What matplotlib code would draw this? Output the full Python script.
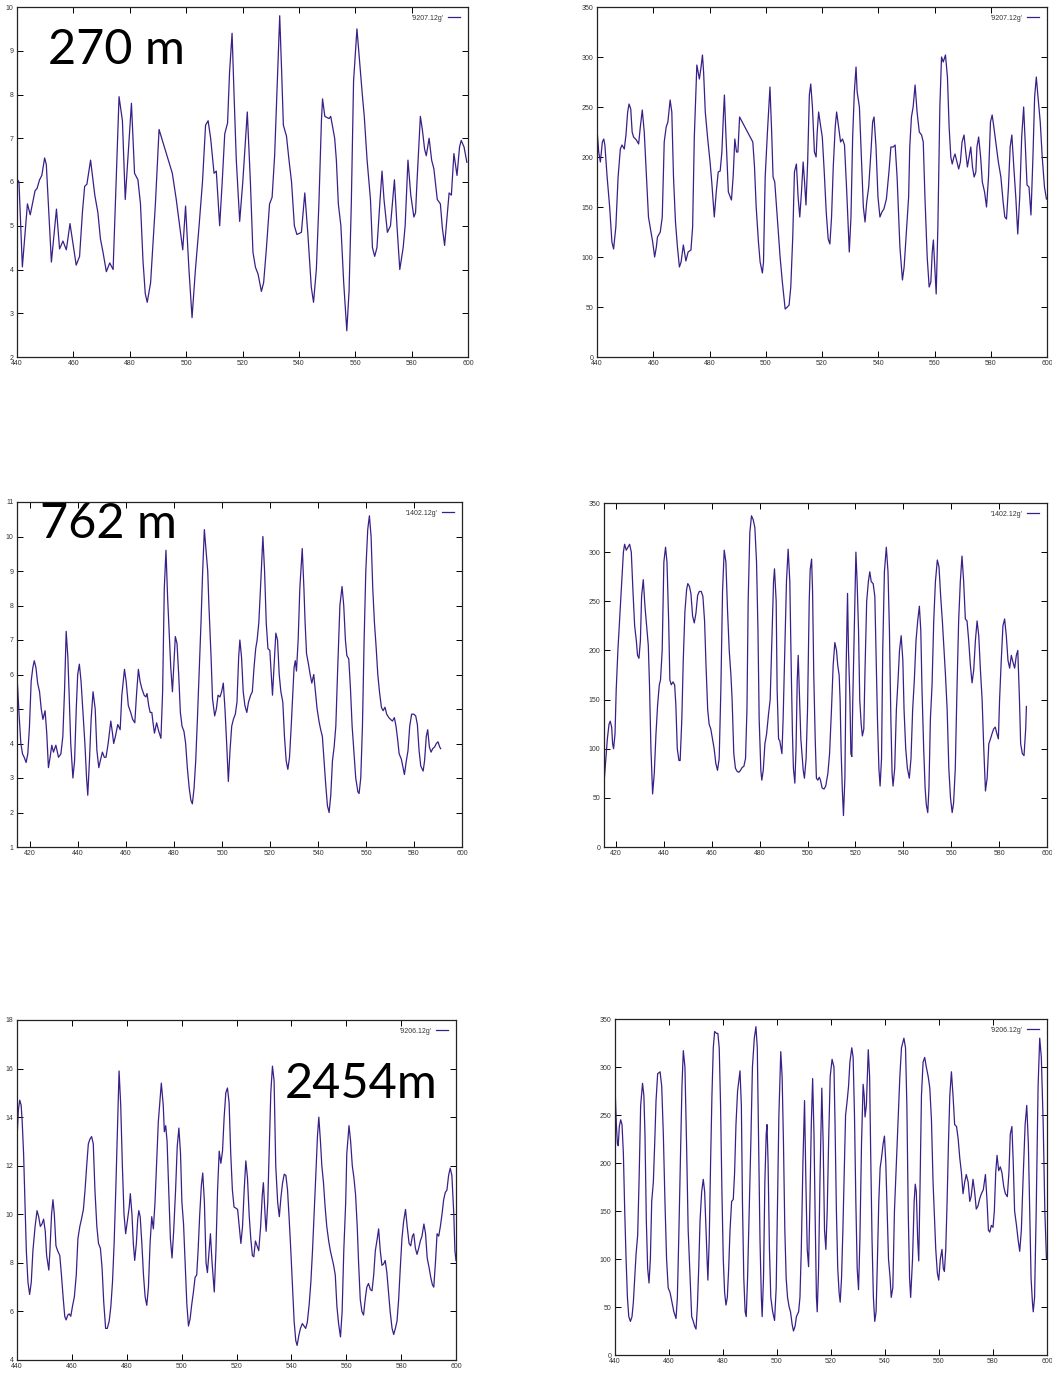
import matplotlib
matplotlib.use("Agg")
import matplotlib.pyplot as plt
import numpy as np

# --- 270 m : left panel (speed-like), right panel (direction 0-350) ---
x_270_a = [440.0, 440.7, 441.9, 443.7, 444.7, 446.4, 447.1, 448.0, 448.8, 449.8, 450.4, 452.2, 454.0, 455.1,
           456.3, 457.5, 458.8, 461.0, 462.2, 463.2, 464.0, 464.8, 466.1, 467.6, 468.7, 469.6, 470.5, 471.7,
           472.9, 474.1, 476.2, 477.4, 478.4, 480.6, 481.7, 482.9, 483.8, 484.7, 485.5, 486.2, 487.4, 489.1,
           490.4, 491.8, 495.1, 496.5, 497.7, 498.8, 499.8, 501.0, 502.1, 503.3, 504.6, 505.8, 506.9, 507.8,
           508.7, 509.9, 510.7, 511.9, 512.8, 513.7, 514.7, 515.4, 516.3, 517.0, 517.8, 519.0, 520.1, 520.8,
           521.7, 522.8, 523.7, 524.6, 525.5, 526.7, 527.5, 528.5, 529.6, 530.5, 531.4, 532.2, 533.2, 533.9,
           534.5, 535.6, 536.5, 537.4, 538.4, 539.3, 540.9, 542.1, 543.2, 544.4, 545.2, 546.2, 547.1, 548.0,
           548.4, 549.2, 550.7, 551.3, 552.7, 553.3, 554.0, 554.9, 555.9, 557.0, 557.8, 558.6, 559.4, 560.6,
           561.6, 562.5, 563.2, 564.2, 565.4, 566.1, 566.9, 567.7, 568.7, 569.5, 570.2, 571.4, 572.5, 573.9,
           574.8, 575.8, 577.0, 577.7, 578.7, 579.7, 580.8, 581.4, 581.9, 583.1, 583.8, 584.6, 585.2, 586.2,
           587.1, 587.9, 589.1, 590.2, 590.9, 591.7, 592.3, 593.3, 594.1, 595.0, 596.1, 597.0, 597.6, 598.6,
           599.6]
y_270_a = [6.07, 6.0, 4.06, 5.5, 5.25, 5.8, 5.85, 6.05, 6.15, 6.55, 6.4, 4.17, 5.38, 4.47,
           4.65, 4.45, 5.05, 4.1, 4.3, 5.3, 5.9, 5.95, 6.5, 5.7, 5.3, 4.7, 4.4, 3.95,
           4.15, 4.0, 7.95, 7.4, 5.6, 7.8, 6.2, 6.05, 5.5, 4.2, 3.45, 3.25, 3.7, 5.5,
           7.2, 6.9, 6.2, 5.6, 5.0, 4.45, 5.45, 4.0, 2.9, 4.0, 5.0, 6.0, 7.3, 7.4,
           7.0, 6.2, 6.25, 5.0, 6.0, 7.1, 7.35, 8.5, 9.4, 8.0, 6.5, 5.1, 6.0, 6.7,
           7.6, 6.0, 4.4, 4.05, 3.9, 3.5, 3.7, 4.5, 5.5, 5.65, 6.6, 8.0, 9.8, 8.5,
           7.3, 7.05, 6.5, 6.0, 5.0, 4.8, 4.85, 5.75, 4.8, 3.6, 3.25, 4.0, 5.5, 7.4,
           7.9, 7.5, 7.45, 7.5, 7.0, 6.5, 5.5, 5.0, 3.7, 2.6, 3.5, 5.5, 8.3, 9.5,
           8.7, 8.0, 7.5, 6.5, 5.6, 4.5, 4.3, 4.5, 5.5, 6.25, 5.6, 4.85, 5.0, 6.05,
           5.0, 4.0, 4.5, 5.0, 6.5, 5.7, 5.2, 5.3, 6.0, 7.5, 7.2, 6.75, 6.6, 7.0,
           6.5, 6.3, 5.6, 5.5, 4.95, 4.55, 5.0, 5.75, 5.7, 6.65, 6.15, 6.8, 6.95, 6.8,
           6.45]

x_270_b = [440.0, 440.6, 441.2, 441.9, 442.4, 442.8, 443.6, 444.5, 445.3, 445.9, 446.7, 447.5, 448.3, 448.9,
           449.7, 450.3, 450.9, 451.4, 452.0, 452.5, 453.0, 454.0, 454.8, 455.4, 456.1, 456.8, 457.5, 458.3,
           459.2, 459.8, 460.5, 461.1, 461.5, 462.5, 463.2, 463.9, 464.6, 465.2, 466.0, 466.6, 467.2, 467.9,
           468.6, 469.3, 469.9, 470.7, 471.6, 472.4, 473.4, 474.0, 474.6, 475.5, 476.4, 477.0, 477.5, 477.9,
           478.5, 479.3, 480.2, 480.8, 481.7, 482.4, 483.1, 483.8, 484.4, 485.0, 485.3, 485.8, 486.7, 487.8,
           488.4, 489.0, 489.6, 490.1, 490.7, 495.4, 496.0, 496.6, 497.4, 498.0, 498.8, 499.2, 499.8, 500.6,
           501.5, 502.1, 502.6, 503.2, 504.1, 505.1, 505.9, 506.9, 507.7, 508.3, 508.9, 509.6, 510.2, 510.9,
           511.5, 512.1, 512.7, 513.3, 513.8, 514.3, 514.9, 515.5, 516.0, 516.6, 517.3, 517.9, 518.3, 518.8,
           519.3, 520.1, 520.8, 521.5, 522.2, 522.8, 523.4, 524.0, 524.7, 525.2, 525.9, 526.6, 527.3, 528.0,
           528.8, 529.7, 530.3, 530.9, 531.5, 532.1, 532.5, 533.3, 534.0, 534.7, 535.3, 535.9, 536.6, 537.4,
           538.0, 538.5, 539.2, 539.9, 540.6, 541.3, 542.0, 542.9, 543.8, 544.5, 545.3, 546.0, 546.7, 547.7,
           548.6, 549.2, 550.1, 550.8, 551.2, 551.8, 552.4, 553.1, 553.8, 554.6, 555.4, 556.0, 556.6, 557.4,
           558.1, 558.7, 559.2, 559.6, 560.1, 560.6, 561.2, 561.9, 562.5, 563.1, 563.9, 564.6, 565.2, 565.8,
           566.3, 566.9, 567.3, 568.0, 568.6, 569.2, 569.8, 570.5, 571.1, 571.7, 572.3, 572.9, 573.5, 574.1,
           574.7, 575.1, 575.7, 576.4, 577.0, 577.8, 578.5, 579.2, 579.9, 580.5, 581.1, 582.0, 582.7, 583.6,
           584.4, 585.0, 585.6, 586.3, 586.9, 587.5, 588.2, 588.9, 589.6, 590.3, 591.0, 591.7, 592.3, 592.9,
           593.6, 594.3, 595.0, 595.6, 596.2, 596.8, 597.6, 598.3, 599.1, 599.8]
y_270_b = [228, 205, 195, 215, 218, 212, 180, 150, 115, 108, 130, 180, 208, 212,
           208, 222, 245, 253, 248, 225, 220, 217, 213, 230, 247, 225, 185, 140,
           125, 115, 100, 110, 120, 125, 140, 215, 230, 235, 257, 245, 180, 135,
           110, 90, 95, 112, 96, 105, 107, 130, 220, 292, 278, 290, 302, 285,
           245, 220, 195, 175, 140, 165, 185, 186, 205, 245, 262, 225, 165, 157,
           180, 218, 205, 205, 240, 215, 190, 150, 115, 95, 84, 95, 180, 225,
           270, 225, 180, 175, 140, 100, 75, 48, 50, 52, 70, 120, 185, 193,
           160, 140, 165, 195, 175, 152, 195, 262, 273, 250, 205, 200, 225, 245,
           235, 220, 185, 145, 118, 113, 140, 190, 230, 245, 230, 215, 218, 212,
           165, 105, 140, 220, 265, 290, 265, 250, 200, 150, 135, 155, 170, 205,
           235, 240, 210, 160, 140, 145, 148, 158, 185, 210, 210, 212, 180, 110,
           77, 90, 130, 160, 210, 240, 250, 272, 245, 225, 222, 215, 160, 100,
           70, 75, 105, 117, 90, 63, 130, 250, 300, 295, 302, 280, 230, 200,
           193, 200, 203, 195, 188, 195, 215, 222, 205, 190, 200, 210, 190, 180,
           185, 210, 220, 200, 175, 165, 150, 180, 235, 242, 230, 210, 195, 180,
           155, 140, 138, 170, 210, 222, 190, 160, 123, 160, 220, 250, 210, 172,
           170, 142, 200, 260, 280, 260, 235, 200, 170, 158]

# --- 762 m ---
x_762_a = [414.7, 415.4, 416.1, 416.8, 417.5, 418.3, 419.0, 419.7, 420.4, 421.1, 421.7, 422.4, 423.1, 423.9,
           424.6, 425.3, 426.2, 426.9, 427.6, 428.3, 429.0, 429.7, 430.7, 431.8, 432.8, 433.6, 434.3, 435.0,
           435.7, 436.2, 436.9, 437.8, 438.5, 439.2, 439.8, 440.5, 441.2, 441.9, 442.8, 443.5, 444.0, 444.7,
           445.4, 446.2, 447.1, 447.8, 448.6, 449.4, 450.1, 450.9, 451.6, 452.5, 453.6, 454.3, 454.8, 455.5,
           456.5, 457.5, 458.2, 459.3, 460.0, 460.9, 461.9, 462.7, 463.6, 464.4, 465.1, 465.8, 466.5, 467.5,
           468.2, 468.7, 469.4, 470.0, 470.7, 471.2, 471.8, 472.7, 473.6, 474.5, 475.2, 475.9, 476.6, 477.3,
           477.9, 478.6, 479.3, 479.9, 480.5, 481.2, 481.9, 482.6, 483.3, 484.1, 484.8, 485.5, 486.3, 487.0,
           487.6, 488.3, 489.0, 489.7, 490.4, 491.2, 491.9, 492.6, 493.3, 494.0, 494.5, 495.4, 496.0, 496.9,
           497.6, 498.3, 499.1, 499.8, 500.5, 501.2, 501.9, 502.6, 503.3, 504.0, 504.7, 505.5, 506.2, 506.9,
           507.4, 508.1, 508.8, 509.5, 510.3, 511.0, 511.9, 512.6, 513.3, 514.0, 514.6, 515.3, 516.0, 517.0,
           517.7, 518.4, 519.1, 519.9, 520.5, 521.0, 521.7, 522.4, 523.1, 523.8, 524.5, 525.3, 526.0, 526.7,
           527.4, 528.1, 528.8, 529.5, 530.0, 530.5, 531.0, 531.7, 532.4, 533.4, 534.1, 534.6, 535.2, 536.0,
           536.7, 537.4, 538.2, 538.9, 539.6, 540.5, 541.1, 541.8, 542.5, 543.2, 543.9, 544.6, 545.3, 546.0,
           546.7, 547.4, 548.1, 549.1, 550.0, 550.7, 551.4, 552.0, 552.8, 553.5, 554.2, 555.0, 555.7, 556.6,
           557.1, 557.8, 558.5, 559.2, 559.9, 560.7, 561.4, 562.1, 562.8, 563.5, 564.2, 564.9, 565.6, 566.4,
           567.1, 567.9, 568.6, 569.5, 570.2, 571.0, 571.8, 572.5, 573.2, 573.8, 574.7, 575.4, 576.0, 576.8,
           577.5, 578.2, 579.0, 579.9, 580.7, 581.4, 582.1, 582.8, 583.8, 584.4, 585.1, 585.7, 586.4, 587.1,
           587.8, 588.6, 589.3, 590.0, 590.7, 591.1]
y_762_a = [5.7, 4.8, 4.0, 3.7, 3.6, 3.45, 3.7, 4.5, 5.8, 6.2, 6.4, 6.2, 5.75, 5.5,
           5.0, 4.7, 4.95, 4.3, 3.3, 3.6, 3.95, 3.75, 3.95, 3.6, 3.7, 4.2, 5.5, 7.25,
           6.5, 5.5, 4.0, 3.0, 3.5, 5.0, 6.0, 6.3, 5.8, 5.0, 4.0, 3.0, 2.5, 3.5,
           4.7, 5.5, 5.0, 3.8, 3.3, 3.55, 3.75, 3.6, 3.6, 4.0, 4.65, 4.3, 4.0, 4.2,
           4.55, 4.4, 5.4, 6.15, 5.8, 5.1, 4.9, 4.7, 4.6, 5.5, 6.15, 5.8, 5.6, 5.4,
           5.35, 5.45, 5.1, 4.9, 4.9, 4.6, 4.3, 4.6, 4.35, 4.15, 5.5, 8.5, 9.6, 8.2,
           7.3, 6.2, 5.5, 6.3, 7.1, 6.9, 6.0, 4.9, 4.5, 4.35, 4.0, 3.3, 2.7, 2.35,
           2.25, 2.7, 3.5, 4.7, 6.0, 7.5, 9.0, 10.2, 9.6, 9.0, 8.0, 6.5, 5.3, 4.8,
           5.0, 5.4, 5.35, 5.5, 5.75, 5.0, 4.0, 2.9, 3.8, 4.5, 4.7, 4.85, 5.2, 6.5,
           7.0, 6.5, 5.5, 5.1, 4.9, 5.2, 5.4, 5.5, 6.2, 6.75, 7.0, 7.5, 8.5, 10.0,
           9.0, 7.5, 6.75, 6.7, 6.0, 5.4, 6.3, 7.2, 7.0, 6.0, 5.5, 5.2, 4.2, 3.5,
           3.25, 3.6, 4.5, 5.5, 6.2, 6.4, 6.1, 7.0, 8.5, 9.65, 8.5, 7.5, 6.6, 6.3,
           6.0, 5.75, 6.0, 5.5, 5.0, 4.6, 4.4, 4.2, 3.5, 2.8, 2.2, 2.0, 2.5, 3.5,
           3.9, 4.5, 6.0, 8.0, 8.55, 8.0, 7.0, 6.55, 6.45, 5.6, 4.5, 3.7, 3.0, 2.6,
           2.55, 3.0, 4.5, 7.0, 9.0, 10.2, 10.6, 10.0, 8.5, 7.5, 6.8, 6.0, 5.5, 5.05,
           4.95, 5.05, 4.85, 4.75, 4.7, 4.65, 4.75, 4.5, 4.1, 3.7, 3.55, 3.3, 3.1, 3.5,
           3.8, 4.5, 4.85, 4.85, 4.8, 4.55, 3.8, 3.35, 3.2, 3.5, 4.2, 4.4, 3.9, 3.75,
           3.85, 3.9, 4.0, 4.05, 3.9, 3.85]

x_762_b = [415.1, 415.8, 416.4, 417.1, 417.6, 418.2, 418.6, 419.0, 419.6, 420.1, 420.8, 421.5, 422.2, 423.1,
           423.6, 424.3, 425.0, 425.7, 426.4, 427.1, 427.8, 428.5, 429.0, 429.6, 430.2, 430.7, 431.4, 432.1,
           432.8, 433.5, 434.0, 434.6, 435.3, 436.0, 436.7, 437.4, 438.1, 438.6, 439.3, 440.0, 440.7, 441.3,
           442.0, 442.5, 443.1, 443.8, 444.5, 445.0, 445.6, 446.3, 446.8, 447.5, 448.1, 448.8, 449.5, 450.0,
           450.7, 451.3, 452.0, 452.7, 453.4, 454.1, 454.8, 455.6, 456.3, 457.0, 457.6, 458.3, 458.9, 459.6,
           460.3, 461.0, 461.7, 462.4, 463.1, 463.8, 464.5, 465.2, 465.9, 466.6, 467.3, 468.0, 468.5, 469.2,
           469.9, 470.6, 471.3, 472.0, 472.7, 473.4, 474.1, 474.7, 475.2, 475.9, 476.6, 477.3, 478.0, 478.7,
           479.3, 479.8, 480.5, 480.9, 481.5, 482.2, 482.9, 483.7, 484.4, 485.1, 485.8, 486.2, 486.9, 487.3,
           487.9, 488.4, 489.3, 489.8, 490.5, 491.2, 491.9, 492.6, 493.2, 493.7, 494.1, 494.7, 495.2, 495.7,
           496.1, 496.7, 497.2, 497.8, 498.2, 498.7, 499.4, 500.0, 500.7, 501.1, 501.7, 502.1, 502.6, 503.2,
           503.7, 504.3, 504.9, 505.4, 506.1, 506.9, 507.6, 508.5, 509.2, 510.0, 510.7, 511.4, 512.1, 512.6,
           513.2, 513.6, 514.0, 514.5, 515.0, 515.6, 516.1, 516.7, 517.1, 517.7, 518.1, 518.5, 518.9, 519.5,
           520.2, 520.7, 521.3, 521.8, 522.4, 522.9, 523.5, 524.0, 524.7, 525.4, 526.0, 526.6, 527.4, 528.1,
           528.6, 529.2, 529.8, 530.3, 530.9, 531.4, 532.1, 532.9, 533.6, 534.2, 534.8, 535.3, 535.7, 536.4,
           537.1, 537.8, 538.4, 539.1, 539.8, 540.3, 541.0, 541.7, 542.5, 543.2, 543.9, 544.6, 545.3, 546.0,
           546.7, 547.3, 547.8, 548.5, 549.1, 549.6, 550.2, 550.7, 551.3, 552.0, 552.7, 553.4, 554.2, 554.9,
           555.6, 556.3, 557.0, 557.6, 558.3, 559.0, 559.7, 560.4, 561.0, 561.7, 562.4, 563.1, 563.8, 564.5,
           565.2, 565.9, 566.6, 567.3, 568.0, 568.7, 569.4, 570.1, 570.8, 571.5, 572.2, 572.9, 573.6, 574.3,
           575.0, 575.7, 576.4, 577.0, 577.7, 578.4, 579.1, 579.7, 580.2, 580.9, 581.6, 582.3, 583.0, 583.7,
           584.4, 585.1, 585.8, 586.5, 587.2, 587.8, 588.5, 589.0, 589.7, 590.4, 591.1, 591.4]
y_762_b = [68, 90, 110, 125, 128, 122, 105, 100, 115, 160, 200, 230, 260, 300,
           308, 302, 305, 308, 300, 260, 225, 210, 195, 192, 210, 255, 272, 245,
           225, 205, 165, 100, 54, 75, 115, 145, 165, 170, 200, 290, 305, 290,
           230, 170, 165, 168, 165, 145, 100, 88, 88, 130, 190, 240, 262, 268,
           265, 258, 235, 228, 238, 256, 260, 260, 255, 230, 185, 140, 125, 120,
           110, 100, 85, 78, 90, 160, 260, 302, 290, 240, 200, 175, 150, 95,
           80, 77, 76, 78, 81, 82, 90, 140, 250, 320, 337, 333, 325, 290,
           220, 130, 78, 68, 78, 105, 115, 135, 150, 210, 270, 283, 250, 160,
           110, 108, 95, 130, 200, 270, 303, 270, 180, 115, 80, 65, 100, 170,
           195, 150, 110, 90, 78, 70, 90, 140, 250, 282, 293, 260, 175, 110,
           70, 68, 71, 68, 60, 59, 62, 75, 95, 140, 185, 208, 200, 185,
           175, 150, 100, 60, 32, 70, 180, 258, 200, 150, 95, 92, 150, 220,
           300, 270, 220, 150, 125, 113, 120, 180, 250, 270, 280, 270, 268, 255,
           200, 130, 80, 62, 90, 200, 280, 305, 280, 220, 130, 75, 62, 80,
           140, 170, 200, 215, 190, 140, 100, 80, 70, 90, 140, 170, 210, 230,
           245, 220, 160, 100, 60, 43, 35, 60, 130, 165, 230, 270, 292, 285,
           255, 230, 200, 175, 140, 80, 50, 35, 45, 80, 160, 230, 270, 296,
           270, 232, 230, 210, 185, 167, 180, 210, 230, 215, 180, 150, 100, 57,
           70, 105, 110, 115, 120, 122, 115, 110, 150, 190, 225, 232, 215, 190,
           182, 195, 188, 182, 195, 200, 150, 105, 95, 93, 120, 143]

# --- 2454 m ---
x_2454_a = [440.0, 440.5, 441.0, 441.5, 441.9, 442.4, 442.9, 443.4, 444.0, 444.6, 445.2, 445.8, 446.6, 447.3,
            447.9, 448.5, 449.1, 449.7, 450.3, 450.8, 451.6, 452.0, 452.6, 453.1, 453.6, 454.2, 454.8, 455.6,
            456.2, 456.8, 457.4, 457.9, 458.5, 459.0, 459.6, 460.2, 460.9, 461.6, 462.2, 462.9, 463.5, 464.2,
            464.8, 465.4, 466.0, 466.6, 467.2, 467.8, 468.4, 469.1, 469.7, 470.4, 471.0, 471.6, 472.3, 472.9,
            473.6, 474.2, 474.8, 475.4, 476.0, 476.6, 477.2, 477.8, 478.4, 479.0, 479.6, 480.2, 480.9, 481.3,
            481.9, 482.4, 482.9, 483.5, 484.0, 484.4, 484.9, 485.5, 486.1, 486.7, 487.3, 487.9, 488.5, 489.1,
            489.7, 490.3, 490.9, 491.5, 492.2, 492.6, 493.3, 493.7, 494.2, 494.7, 495.3, 495.9, 496.5, 497.1,
            497.8, 498.4, 499.0, 499.6, 500.1, 500.7, 501.3, 501.9, 502.5, 503.1, 503.7, 504.3, 504.9, 505.5,
            506.0, 506.6, 507.2, 507.7, 508.3, 508.9, 509.4, 510.0, 510.5, 511.1, 511.9, 512.5, 513.1, 513.7,
            514.3, 514.9, 515.5, 516.1, 516.7, 517.3, 517.9, 518.5, 519.1, 519.8, 520.4, 521.0, 521.6, 522.2,
            522.8, 523.4, 524.0, 524.6, 525.2, 525.8, 526.3, 526.9, 527.5, 528.1, 528.8, 529.4, 529.8, 530.5,
            530.8, 531.4, 531.9, 532.5, 533.1, 533.7, 534.3, 535.0, 535.6, 536.2, 536.8, 537.4, 538.0, 538.6,
            539.2, 539.8, 540.4, 541.0, 541.6, 542.1, 542.7, 543.3, 544.0, 544.6, 545.2, 545.8, 546.5, 547.1,
            547.7, 548.3, 548.9, 549.5, 550.0, 550.6, 551.1, 551.7, 552.3, 552.9, 553.6, 554.2, 554.8, 555.4,
            556.0, 556.6, 557.2, 557.9, 558.5, 559.1, 559.8, 560.2, 561.0, 561.6, 562.2, 562.8, 563.4, 564.0,
            564.5, 565.1, 565.7, 566.3, 566.9, 567.5, 568.1, 568.8, 569.4, 570.0, 570.6, 571.3, 571.8, 572.4,
            573.0, 573.6, 574.2, 574.8, 575.4, 576.0, 576.7, 577.3, 577.9, 578.5, 579.1, 579.7, 580.3, 580.9,
            581.6, 582.2, 582.9, 583.5, 584.1, 584.6, 585.2, 585.8, 586.4, 587.0, 587.6, 588.3, 588.9, 589.5,
            590.2, 590.8, 591.4, 591.9, 592.5, 593.1, 593.7, 594.3, 594.9, 595.5, 596.1, 596.7, 597.3, 597.9,
            598.5, 599.2, 599.6, 600.0]
y_2454_a = [13.1, 14.3, 14.7, 14.5, 13.8, 12.5, 10.5, 8.5, 7.2, 6.7, 7.2, 8.5, 9.5, 10.15,
            9.9, 9.5, 9.6, 9.8, 9.3, 8.3, 7.7, 8.5, 10.0, 10.6, 10.0, 8.7, 8.5, 8.3,
            7.5, 6.6, 5.8, 5.65, 5.85, 5.9, 5.8, 6.2, 6.6, 7.5, 9.0, 9.5, 9.8, 10.2,
            11.0, 12.0, 12.9, 13.1, 13.2, 12.9, 11.0, 9.5, 8.8, 8.6, 7.8, 6.4, 5.3, 5.3,
            5.6, 6.2, 7.2, 8.8, 11.0, 13.5, 15.9, 14.5, 12.0, 10.0, 9.2, 9.7, 10.3, 10.85,
            10.0, 8.8, 8.1, 8.8, 9.8, 10.15, 9.9, 8.8, 7.5, 6.6, 6.25, 7.0, 8.8, 9.9,
            9.4, 10.5, 12.2, 13.8, 14.8, 15.4, 14.5, 13.4, 13.65, 13.0, 11.0, 9.0, 8.2, 9.3,
            11.0, 12.8, 13.55, 12.5, 10.5, 9.6, 8.0, 6.3, 5.4, 5.7, 6.3, 6.8, 7.4, 7.5,
            8.5, 10.0, 11.2, 11.7, 10.5, 8.0, 7.6, 8.5, 9.2, 8.0, 6.8, 8.5, 11.0, 12.6,
            12.1, 12.6, 14.0, 15.0, 15.2, 14.6, 12.5, 11.0, 10.3, 10.25, 10.2, 9.5, 8.8, 9.5,
            11.0, 12.2, 11.5, 10.0, 9.0, 8.3, 8.25, 8.9, 8.7, 8.5, 9.5, 10.8, 11.3, 9.8,
            9.3, 10.5, 12.5, 15.0, 16.1, 15.5, 12.0, 10.5, 9.9, 10.7, 11.3, 11.65, 11.6, 11.0,
            9.8, 8.5, 7.0, 5.6, 4.8, 4.6, 5.0, 5.3, 5.5, 5.4, 5.3, 5.55, 6.3, 7.2,
            8.5, 10.0, 11.6, 13.2, 14.0, 13.0, 12.0, 11.3, 10.3, 9.5, 8.9, 8.5, 8.2, 7.9,
            7.5, 6.2, 5.5, 4.95, 6.0, 8.5, 10.5, 12.5, 13.65, 13.0, 12.0, 11.5, 10.8, 9.5,
            8.0, 6.5, 6.0, 5.85, 6.5, 7.0, 7.15, 6.9, 6.85, 7.5, 8.5, 9.0, 9.4, 8.5,
            7.9, 7.95, 8.1, 7.6, 6.8, 6.0, 5.3, 5.05, 5.3, 5.6, 6.5, 7.8, 9.0, 9.7,
            10.2, 9.5, 8.8, 8.7, 9.1, 9.2, 8.6, 8.35, 8.6, 8.9, 9.1, 9.6, 9.2, 8.2,
            7.8, 7.4, 7.1, 7.0, 8.0, 9.2, 9.1, 9.5, 10.0, 10.6, 10.9, 11.0, 11.6, 11.9,
            11.6, 10.0, 8.5, 8.1]

x_2454_b = [440.0, 440.5, 440.9, 441.2, 441.6, 442.1, 442.6, 443.1, 443.6, 444.1, 444.6, 445.1, 445.7, 446.3,
            446.8, 447.3, 447.8, 448.4, 448.9, 449.5, 450.2, 450.7, 451.1, 451.6, 452.1, 452.6, 453.1, 453.6,
            454.2, 454.7, 455.2, 455.8, 456.7, 457.3, 457.9, 458.5, 459.1, 459.7, 460.4, 461.1, 461.8, 462.6,
            463.1, 463.6, 464.2, 464.8, 465.3, 465.9, 466.5, 467.1, 467.8, 468.4, 469.0, 469.5, 470.0, 470.5,
            471.0, 471.5, 472.1, 472.7, 473.2, 473.7, 474.1, 474.4, 474.9, 475.4, 475.9, 476.4, 476.9, 477.6,
            478.1, 478.6, 479.1, 479.6, 480.1, 480.6, 481.1, 481.6, 482.1, 482.6, 483.2, 483.8, 484.3, 484.8,
            485.4, 486.3, 486.8, 487.2, 487.7, 488.2, 488.6, 489.1, 489.7, 490.3, 490.9, 491.6, 492.2, 492.7,
            493.2, 493.7, 494.2, 494.5, 495.0, 495.5, 496.0, 496.3, 496.7, 497.2, 497.7, 498.4, 499.1, 499.7,
            500.2, 500.7, 501.4, 501.9, 502.4, 502.9, 503.4, 503.9, 504.5, 505.0, 505.6, 506.1, 506.7, 507.2,
            508.0, 508.5, 509.0, 509.6, 510.2, 510.7, 511.2, 511.7, 512.2, 512.7, 513.2, 513.7, 514.1, 514.6,
            514.9, 515.4, 515.9, 516.6, 517.1, 517.6, 518.1, 518.6, 519.1, 519.7, 520.4, 521.1, 521.5, 522.0,
            522.5, 523.0, 523.4, 523.9, 524.4, 524.9, 525.4, 526.0, 526.5, 527.0, 527.7, 528.2, 528.7, 529.2,
            529.7, 530.2, 530.7, 531.3, 531.9, 532.3, 532.6, 533.1, 533.8, 534.3, 534.7, 535.2, 535.7, 536.2,
            536.7, 537.2, 537.7, 538.2, 538.7, 539.3, 539.8, 540.3, 540.8, 541.3, 541.9, 542.3, 542.9, 543.5,
            544.2, 544.9, 545.5, 546.1, 547.0, 547.6, 548.1, 548.6, 549.1, 549.5, 550.2, 550.8, 551.2, 551.6,
            552.1, 552.5, 553.0, 553.5, 554.1, 554.7, 555.3, 556.0, 556.6, 557.2, 557.8, 558.3, 558.8, 559.4,
            559.9, 560.5, 561.1, 561.6, 562.0, 562.5, 563.0, 563.5, 564.0, 564.6, 565.2, 565.8, 566.5, 567.1,
            567.7, 568.3, 568.9, 569.5, 570.1, 570.8, 571.4, 571.9, 572.6, 573.2, 573.8, 574.4, 575.1, 575.7,
            576.4, 577.2, 577.8, 578.3, 578.8, 579.4, 580.0, 580.5, 581.0, 581.5, 582.1, 582.7, 583.3, 584.0,
            584.6, 585.3, 585.9, 586.4, 587.0, 587.5, 588.0, 588.7, 589.3, 589.9, 590.5, 591.1, 591.9, 592.5,
            593.1, 593.6, 594.1, 594.6, 594.9, 595.4, 596.0, 596.7, 597.3, 597.9, 598.6, 599.2, 599.8]
y_2454_b = [280, 240, 220, 218, 238, 245, 240, 210, 150, 100, 60, 40, 35, 40,
            55, 80, 105, 125, 180, 260, 283, 270, 230, 140, 90, 75, 100, 160,
            180, 220, 265, 293, 295, 280, 230, 160, 100, 70, 65, 55, 45, 38,
            60, 120, 200, 280, 317, 300, 220, 130, 80, 40, 35, 30, 27, 50,
            90, 140, 170, 183, 170, 130, 100, 78, 120, 200, 270, 320, 337, 335,
            335, 320, 260, 170, 100, 65, 52, 60, 90, 130, 160, 162, 190, 240,
            275, 296, 260, 160, 80, 45, 40, 80, 150, 220, 300, 330, 342, 320,
            220, 120, 60, 40, 80, 180, 230, 240, 200, 110, 60, 45, 36, 70,
            160, 250, 316, 290, 220, 130, 80, 60, 50, 45, 32, 25, 30, 40,
            45, 60, 110, 200, 265, 180, 110, 92, 160, 240, 288, 230, 150, 60,
            45, 90, 180, 278, 220, 130, 110, 150, 220, 290, 308, 300, 240, 150,
            90, 65, 55, 80, 130, 190, 250, 265, 280, 305, 320, 310, 250, 160,
            90, 68, 120, 220, 282, 270, 248, 260, 318, 290, 210, 120, 60, 35,
            45, 100, 160, 195, 205, 220, 228, 200, 150, 100, 80, 60, 70, 150,
            200, 250, 290, 320, 330, 320, 260, 150, 80, 60, 100, 160, 178, 170,
            120, 98, 180, 270, 305, 310, 300, 290, 278, 245, 180, 145, 110, 85,
            78, 100, 110, 90, 87, 110, 160, 220, 270, 295, 270, 240, 238, 225,
            205, 190, 168, 180, 188, 180, 160, 165, 183, 170, 152, 155, 163, 168,
            172, 188, 160, 130, 128, 135, 133, 150, 190, 208, 192, 196, 190, 175,
            168, 165, 190, 230, 238, 200, 150, 135, 120, 108, 130, 180, 240, 260,
            220, 150, 80, 55, 45, 60, 150, 280, 330, 310, 240, 150, 100]

depth_labels = ["270 m", "762 m", "2454m"]
file_labels = ["'9207.12g'", "'1402.12g'", "'9206.12g'"]

W, H = 1052, 1375
LINE = "#3b1f88"

fig = plt.figure(figsize=(W / 100, H / 100), dpi=100)


def add_axes_px(l, t, r, b):
    return fig.add_axes([l / W, 1 - b / H, (r - l) / W, (b - t) / H])


def style(ax, xlim, ylim, xticks, yticks):
    ax.set_xlim(*xlim)
    ax.set_ylim(*ylim)
    ax.set_xticks(xticks)
    ax.set_yticks(yticks)
    ax.tick_params(direction="in", top=True, right=True, length=4, width=0.7,
                   labelsize=5, pad=2.5, labelcolor="#333333")
    for sp in ax.spines.values():
        sp.set_linewidth(0.9)
        sp.set_color("#222222")
    for lab in ax.get_xticklabels() + ax.get_yticklabels():
        lab.set_family("Liberation Sans")


def legend(ax, lbl):
    leg = ax.legend([lbl], loc="upper right", fontsize=5, frameon=False, markerfirst=False,
                    handlelength=1.8, handletextpad=0.6, borderaxespad=0.7)
    for t in leg.get_texts():
        t.set_family("Liberation Sans")
        t.set_color("#333333")


# row 1
ax1 = add_axes_px(17, 7, 468, 357)
ax1.plot(x_270_a, y_270_a, color=LINE, lw=0.9)
style(ax1, (440, 600), (2, 10), range(440, 601, 20), range(2, 11))
legend(ax1, file_labels[0])

ax2 = add_axes_px(597, 7, 1047, 357)
ax2.plot(x_270_b, y_270_b, color=LINE, lw=0.9)
style(ax2, (440, 600), (0, 350), range(440, 601, 20), range(0, 351, 50))
legend(ax2, file_labels[0])

# row 2
ax3 = add_axes_px(17, 502, 462, 847)
ax3.plot(x_762_a, y_762_a, color=LINE, lw=0.9)
style(ax3, (414.5, 600), (1, 11), range(420, 601, 20), range(1, 12))
legend(ax3, file_labels[1])

ax4 = add_axes_px(604, 503, 1047, 847)
ax4.plot(x_762_b, y_762_b, color=LINE, lw=0.9)
style(ax4, (415, 600), (0, 350), range(420, 601, 20), range(0, 351, 50))
legend(ax4, file_labels[1])

# row 3
ax5 = add_axes_px(17, 1020, 456, 1360)
ax5.plot(x_2454_a, y_2454_a, color=LINE, lw=0.9)
style(ax5, (440, 600), (4, 18), range(440, 601, 20), range(4, 19, 2))
legend(ax5, file_labels[2])

ax6 = add_axes_px(615, 1019, 1047, 1355)
ax6.plot(x_2454_b, y_2454_b, color=LINE, lw=0.9)
style(ax6, (440, 600), (0, 350), range(440, 601, 20), range(0, 351, 50))
legend(ax6, file_labels[2])

# big depth labels
big = dict(fontsize=35, family="Lato", color="black", va="baseline", ha="left")
fig.text(48 / W, 1 - 64 / H, depth_labels[0], **big)
fig.text(40 / W, 1 - 538 / H, depth_labels[1], **big)
fig.text(285 / W, 1 - 1098 / H, depth_labels[2], **big)

fig.savefig("out.png", dpi=100)
